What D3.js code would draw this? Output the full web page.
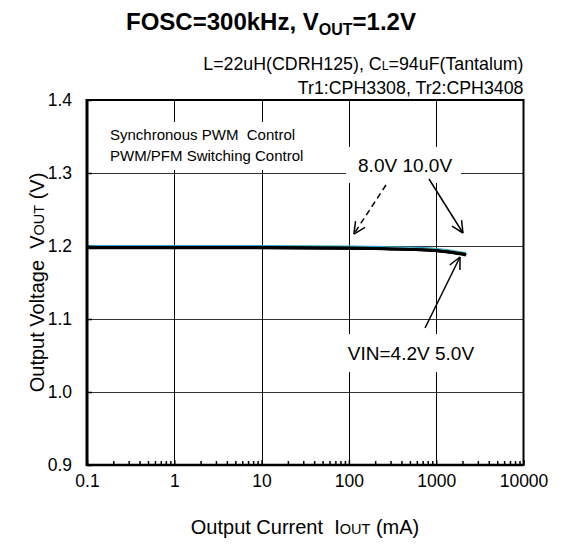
<!DOCTYPE html>
<html><head><meta charset="utf-8">
<script src="https://cdn.jsdelivr.net/npm/d3@7"></script>
<style>
html,body{margin:0;padding:0;background:#fff;}
svg{display:block;font-family:Arial,"Liberation Sans",sans-serif;}
</style></head>
<body>
<svg id="c" width="564" height="545"></svg>
<script>
// ---- data ----
const currents = [0.1, 1, 10, 100, 200, 500, 1000, 1500, 2200];
const vin42 = [1.1973, 1.1973, 1.1972, 1.1966, 1.1960, 1.1949, 1.1931, 1.1907, 1.1874];
const vin50 = [1.1976, 1.1976, 1.1975, 1.1969, 1.1963, 1.1952, 1.1935, 1.1911, 1.1878];
const vin80 = [1.1978, 1.1978, 1.1977, 1.1971, 1.1965, 1.1955, 1.1938, 1.1915, 1.1882];
const vin100 = [1.1980, 1.1980, 1.1979, 1.1973, 1.1967, 1.1957, 1.1940, 1.1918, 1.1885];
const pwmpfm = [1.2007, 1.2007, 1.2006, 1.2000, 1.1994, 1.1983, 1.1966, 1.1942, 1.1908];
const xTicks = [0.1, 1, 10, 100, 1000, 10000];
const xTickLabels = ["0.1", "1", "10", "100", "1000", "10000"];
const yTicks = [0.9, 1.0, 1.1, 1.2, 1.3, 1.4];
const yTickLabels = ["0.9", "1.0", "1.1", "1.2", "1.3", "1.4"];

const svg = d3.select("#c");
const L = 87, R = 523.5, T = 100, B = 465;
const x = d3.scaleLog().domain([0.1, 10000]).range([L, R]);
const y = d3.scaleLinear().domain([0.9, 1.4]).range([B, T]);

// title
const title = svg.append("text").attr("x", 271).attr("y", 30).attr("text-anchor", "middle")
  .attr("font-size", 24).attr("font-weight", "bold");
title.append("tspan").text("FOSC=300kHz, V");
title.append("tspan").attr("font-size", 16).attr("dy", 5).text("OUT");
title.append("tspan").attr("dy", -5).text("=1.2V");

const s1 = svg.append("text").attr("x", R).attr("y", 70).attr("text-anchor", "end").attr("font-size", 17.8);
s1.append("tspan").text("L=22uH(CDRH125), C");
s1.append("tspan").attr("font-size", 12.5).text("L");
s1.append("tspan").text("=94uF(Tantalum)");
svg.append("text").attr("x", R).attr("y", 94).attr("text-anchor", "end").attr("font-size", 17.8)
  .text("Tr1:CPH3308, Tr2:CPH3408");

// grid
const g = svg.append("g");
g.selectAll("line.vg").data([1, 10, 100, 1000]).join("line")
  .attr("x1", d => Math.round(x(d)) + 0.5).attr("x2", d => Math.round(x(d)) + 0.5)
  .attr("y1", T).attr("y2", B).attr("stroke", "#000").attr("stroke-width", 1);
g.selectAll("line.hg").data([1.0, 1.1, 1.2, 1.3]).join("line")
  .attr("y1", d => Math.round(y(d)) + 0.5).attr("y2", d => Math.round(y(d)) + 0.5)
  .attr("x1", L).attr("x2", R).attr("stroke", "#333").attr("stroke-width", 1);

// white label boxes (cover grid)
const boxes = [
  [103, 122, 212, 48],
  [346, 147, 115, 36],
  [340, 334, 140, 38]
];
svg.selectAll("rect.wb").data(boxes).join("rect")
  .attr("x", d => d[0]).attr("y", d => d[1]).attr("width", d => d[2]).attr("height", d => d[3])
  .attr("fill", "#fff");

// text in plot
svg.append("text").attr("x", 110).attr("y", 140).attr("font-size", 15).attr("xml:space", "preserve")
  .text("Synchronous PWM  Control");
svg.append("text").attr("x", 110).attr("y", 161).attr("font-size", 15)
  .text("PWM/PFM Switching Control");

// curves
const line = d3.line().x((d, i) => x(currents[i])).y(d => y(d)).curve(d3.curveMonotoneX);
svg.append("path").datum(pwmpfm).attr("d", line).attr("fill", "none").attr("stroke", "#2aa5c8").attr("stroke-width", 1.2);
[vin42, vin50, vin80, vin100].forEach(s => {
  svg.append("path").datum(s).attr("d", line).attr("fill", "none").attr("stroke", "#000").attr("stroke-width", 2.4);
});

// axes
const minor = [];
for (let e = -1; e < 4; e++) for (let m = 2; m <= 9; m++) minor.push(m * Math.pow(10, e));
svg.append("g").attr("transform", `translate(0,${B})`)
  .call(d3.axisBottom(x).tickValues(minor).tickSizeInner(-4).tickSizeOuter(0).tickFormat(""))
  .call(a => a.select(".domain").remove())
  .selectAll("line").attr("stroke-width", 1.5);
svg.append("g").attr("transform", `translate(0,${B})`)
  .call(d3.axisBottom(x).tickValues(xTicks).tickSizeInner(-5).tickSizeOuter(0).tickPadding(10)
    .tickFormat((d, i) => xTickLabels[i]))
  .call(a => a.select(".domain").remove())
  .call(a => a.selectAll("text").attr("font-size", 17.5).attr("fill", "#000").attr("font-family", "Arial,'Liberation Sans',sans-serif"))
  .selectAll("line").attr("stroke-width", 1.5);
svg.append("g").attr("transform", `translate(${L},0)`)
  .call(d3.axisLeft(y).tickValues(yTicks).tickSizeInner(-5).tickSizeOuter(0).tickPadding(15)
    .tickFormat((d, i) => yTickLabels[i]))
  .call(a => a.select(".domain").remove())
  .call(a => a.selectAll("text").attr("font-size", 17.5).attr("fill", "#000").attr("font-family", "Arial,'Liberation Sans',sans-serif"))
  .selectAll("line").attr("stroke-width", 1.5);

// frame
svg.append("rect").attr("x", L).attr("y", T).attr("width", R - L).attr("height", B - T)
  .attr("fill", "none").attr("stroke", "#000").attr("stroke-width", 2);
svg.append("line").attr("x1", L).attr("x2", L).attr("y1", T - 1).attr("y2", B + 1).attr("stroke", "#000").attr("stroke-width", 3);
svg.append("line").attr("x1", L).attr("x2", R).attr("y1", B).attr("y2", B).attr("stroke", "#000").attr("stroke-width", 2.5);

// axis titles
const xt = svg.append("text").attr("x", 305).attr("y", 534).attr("text-anchor", "middle").attr("font-size", 20).attr("xml:space", "preserve");
xt.append("tspan").text("Output Current  I");
xt.append("tspan").attr("font-size", 14.5).text("OUT");
xt.append("tspan").text(" (mA)");
const yt = svg.append("text").attr("transform", `translate(44,${(T + B) / 2}) rotate(-90)`).attr("text-anchor", "middle").attr("font-size", 20).attr("xml:space", "preserve");
yt.append("tspan").text("Output Voltage  V");
yt.append("tspan").attr("font-size", 14.5).text("OUT");
yt.append("tspan").text(" (V)");

// annotations (data coords: mA, V)
svg.append("text").attr("x", x(440)).attr("y", y(1.3013)).attr("text-anchor", "middle").attr("font-size", 19).text("8.0V 10.0V");
svg.append("text").attr("x", x(514)).attr("y", y(1.0438)).attr("text-anchor", "middle").attr("font-size", 19).text("VIN=4.2V 5.0V");

const arrows = [
  {from: [266, 1.2836], to: [114, 1.2164], dash: "6,4"},
  {from: [827, 1.2918], to: [2027, 1.2178], dash: null},
  {from: [745, 1.0877], to: [1874, 1.1849], dash: null}
];
arrows.forEach(a => {
  const x1 = x(a.from[0]), y1 = y(a.from[1]), x2 = x(a.to[0]), y2 = y(a.to[1]);
  svg.append("line").attr("x1", x1).attr("y1", y1).attr("x2", x2).attr("y2", y2)
    .attr("stroke", "#000").attr("stroke-width", 1.5).attr("stroke-dasharray", a.dash);
  const ang = Math.atan2(y2 - y1, x2 - x1), len = 13, sp = 0.45;
  [ang + Math.PI - sp, ang + Math.PI + sp].forEach(t => {
    svg.append("line").attr("x1", x2).attr("y1", y2)
      .attr("x2", x2 + len * Math.cos(t)).attr("y2", y2 + len * Math.sin(t))
      .attr("stroke", "#000").attr("stroke-width", 1.5);
  });
});
</script>
</body></html>
